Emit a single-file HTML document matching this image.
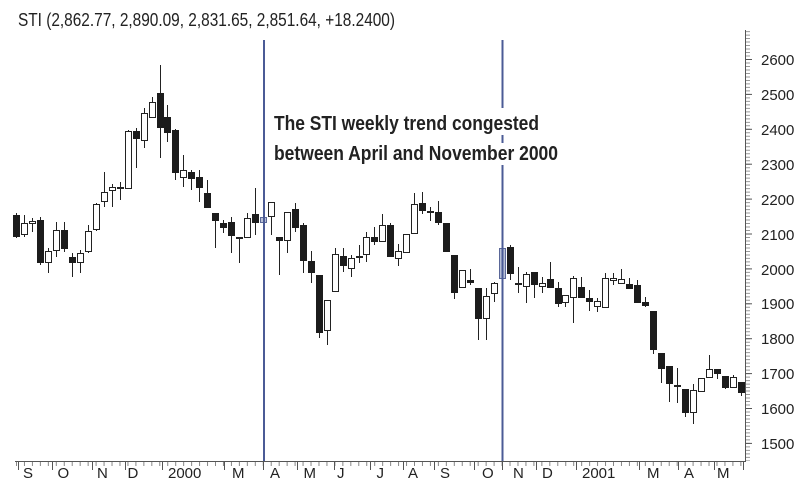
<!DOCTYPE html>
<html>
<head>
<meta charset="utf-8">
<style>
  html,body{margin:0;padding:0;background:#fff;}
  svg{display:block;}
  text{font-family:"Liberation Sans",Arial,sans-serif;fill:#222;}
</style>
</head>
<body>
<svg width="800" height="495" viewBox="0 0 800 495" xmlns="http://www.w3.org/2000/svg">
  <rect width="800" height="495" fill="#fff"/>

  <text x="18" y="26" font-size="18" textLength="377" lengthAdjust="spacingAndGlyphs">STI (2,862.77, 2,890.09, 2,831.65, 2,851.64, +18.2400)</text>

  <line x1="745.5" y1="30" x2="745.5" y2="462" stroke="#555" stroke-width="1"/>
  <line x1="748" y1="31.08" x2="748" y2="461" stroke="#999" stroke-width="4" stroke-dasharray="1 2.49"/>
  <g stroke="#555" stroke-width="1">
    <line x1="745" y1="59.5" x2="752" y2="59.5"/>
    <line x1="745" y1="94.4" x2="752" y2="94.4"/>
    <line x1="745" y1="129.3" x2="752" y2="129.3"/>
    <line x1="745" y1="164.2" x2="752" y2="164.2"/>
    <line x1="745" y1="199.1" x2="752" y2="199.1"/>
    <line x1="745" y1="234" x2="752" y2="234"/>
    <line x1="745" y1="268.9" x2="752" y2="268.9"/>
    <line x1="745" y1="303.8" x2="752" y2="303.8"/>
    <line x1="745" y1="338.7" x2="752" y2="338.7"/>
    <line x1="745" y1="373.6" x2="752" y2="373.6"/>
    <line x1="745" y1="408.5" x2="752" y2="408.5"/>
    <line x1="745" y1="443.4" x2="752" y2="443.4"/>
  </g>
  <g font-size="15">
    <text x="761" y="65">2600</text>
    <text x="761" y="100">2500</text>
    <text x="761" y="135">2400</text>
    <text x="761" y="170">2300</text>
    <text x="761" y="205">2200</text>
    <text x="761" y="240">2100</text>
    <text x="761" y="275">2000</text>
    <text x="761" y="309">1900</text>
    <text x="761" y="344">1800</text>
    <text x="761" y="379">1700</text>
    <text x="761" y="414">1600</text>
    <text x="761" y="449">1500</text>
  </g>

  <line x1="15" y1="461.5" x2="746" y2="461.5" stroke="#555" stroke-width="1"/>
  <line x1="16" y1="464" x2="745" y2="464" stroke="#888" stroke-width="4" stroke-dasharray="1 6.96"/>
  <g stroke="#555" stroke-width="1">
    <line x1="18.5" y1="461" x2="18.5" y2="470"/>
    <line x1="52.5" y1="461" x2="52.5" y2="470"/>
    <line x1="92.5" y1="461" x2="92.5" y2="470"/>
    <line x1="125.5" y1="461" x2="125.5" y2="470"/>
    <line x1="162.5" y1="461" x2="162.5" y2="470"/>
    <line x1="224.5" y1="461" x2="224.5" y2="470"/>
    <line x1="263.5" y1="461" x2="263.5" y2="470"/>
    <line x1="297.5" y1="461" x2="297.5" y2="470"/>
    <line x1="334.5" y1="461" x2="334.5" y2="470"/>
    <line x1="370.5" y1="461" x2="370.5" y2="470"/>
    <line x1="403.5" y1="461" x2="403.5" y2="470"/>
    <line x1="434.5" y1="461" x2="434.5" y2="470"/>
    <line x1="474.5" y1="461" x2="474.5" y2="470"/>
    <line x1="502.5" y1="461" x2="502.5" y2="470"/>
    <line x1="536.5" y1="461" x2="536.5" y2="470"/>
    <line x1="576.5" y1="461" x2="576.5" y2="470"/>
    <line x1="639.5" y1="461" x2="639.5" y2="470"/>
    <line x1="678.5" y1="461" x2="678.5" y2="470"/>
    <line x1="714.5" y1="461" x2="714.5" y2="470"/>
    <line x1="743.5" y1="461" x2="743.5" y2="470"/>
  </g>
  <g font-size="15">
    <text x="23" y="478">S</text>
    <text x="57.5" y="478">O</text>
    <text x="97" y="478">N</text>
    <text x="127.5" y="478">D</text>
    <text x="168" y="478">2000</text>
    <text x="232" y="478">M</text>
    <text x="270" y="478">A</text>
    <text x="303.5" y="478">M</text>
    <text x="337" y="478">J</text>
    <text x="376.5" y="478">J</text>
    <text x="408" y="478">A</text>
    <text x="440" y="478">S</text>
    <text x="482" y="478">O</text>
    <text x="513" y="478">N</text>
    <text x="542" y="478">D</text>
    <text x="582" y="478">2001</text>
    <text x="647" y="478">M</text>
    <text x="684" y="478">A</text>
    <text x="717" y="478">M</text>
  </g>

  <path fill="none" stroke="#222" stroke-width="1" d="M16.5 213V238 M24.5 215V237 M32.5 218V232 M40.5 217V265 M48.5 248V273 M56.5 222V257 M64.5 222V252 M72.5 253V277 M80.5 250V273 M88.5 225V253 M96.5 203V231 M104.5 172V207 M112.5 184V207 M120.5 182V200 M128.5 130V188 M136.5 128V168 M144.5 108V148 M152.5 97V117 M160.5 65V158 M167.5 105V142 M175.5 129V180 M183.5 155V187 M191.5 170V190 M199.5 170V202 M207.5 180V208 M215.5 213V248 M223.5 220V233 M231.5 217V253 M239.5 237V263 M247.5 213V238 M255.5 188V235 M263.5 215V225 M271.5 202V235 M279.5 237V275 M287.5 212V253 M295.5 203V232 M303.5 223V273 M311.5 251V283 M319.5 275V338 M327.5 300V345 M335.5 248V291 M343.5 248V272 M351.5 255V277 M359.5 245V263 M366.5 232V262 M374.5 227V245 M382.5 214V242 M390.5 223V257 M398.5 244V266 M406.5 234V252 M414.5 193V233 M422.5 192V214 M430.5 207V221 M438.5 201V225 M446.5 223V251 M454.5 255V299 M462.5 270V287 M470.5 269V285 M478.5 288V340 M486.5 288V340 M494.5 282V302 M502.5 245V282 M510.5 245V280 M518.5 267V293 M526.5 272V303 M534.5 272V298 M542.5 277V293 M550.5 262V287 M558.5 282V307 M565.5 295V307 M573.5 276V323 M581.5 277V298 M589.5 290V311 M597.5 298V312 M605.5 273V307 M613.5 273V285 M621.5 269V283 M629.5 278V288 M637.5 280V302 M645.5 297V307 M653.5 311V354 M661.5 353V383 M669.5 366V402 M677.5 368V403 M685.5 389V417 M693.5 384V424 M701.5 378V391 M709.5 355V377 M717.5 369V379 M725.5 376V389 M733.5 375V388 M741.5 382V396"/>

  <g fill="#1c1c1c" stroke="#1c1c1c" stroke-width="1">
    <rect x="13.5" y="215.5" width="6" height="21"/>
    <rect x="37.5" y="220.5" width="6" height="42"/>
    <rect x="61.5" y="230.5" width="6" height="18"/>
    <rect x="69.5" y="257.5" width="6" height="5"/>
    <rect x="133.5" y="131.5" width="6" height="7"/>
    <rect x="157.5" y="93.5" width="6" height="34"/>
    <rect x="164.5" y="117.5" width="6" height="15"/>
    <rect x="172.5" y="130.5" width="6" height="42"/>
    <rect x="188.5" y="172.5" width="6" height="6"/>
    <rect x="196.5" y="177.5" width="6" height="10"/>
    <rect x="204.5" y="193.5" width="6" height="14"/>
    <rect x="212.5" y="213.5" width="6" height="7"/>
    <rect x="220.5" y="223.5" width="6" height="4"/>
    <rect x="228.5" y="222.5" width="6" height="13"/>
    <rect x="252.5" y="214.5" width="6" height="8"/>
    <rect x="276.5" y="237.5" width="6" height="3"/>
    <rect x="292.5" y="209.5" width="6" height="18"/>
    <rect x="300.5" y="225.5" width="6" height="35"/>
    <rect x="308.5" y="261.5" width="6" height="11"/>
    <rect x="316.5" y="275.5" width="6" height="57"/>
    <rect x="340.5" y="256.5" width="6" height="9"/>
    <rect x="371.5" y="237.5" width="6" height="4"/>
    <rect x="387.5" y="225.5" width="6" height="31"/>
    <rect x="419.5" y="203.5" width="6" height="7"/>
    <rect x="435.5" y="212.5" width="6" height="10"/>
    <rect x="443.5" y="223.5" width="6" height="28"/>
    <rect x="451.5" y="255.5" width="6" height="37"/>
    <rect x="467.5" y="280.5" width="6" height="2"/>
    <rect x="475.5" y="288.5" width="6" height="30"/>
    <rect x="507.5" y="247.5" width="6" height="26"/>
    <rect x="531.5" y="272.5" width="6" height="12"/>
    <rect x="547.5" y="279.5" width="6" height="8"/>
    <rect x="555.5" y="288.5" width="6" height="15"/>
    <rect x="578.5" y="287.5" width="6" height="10"/>
    <rect x="586.5" y="298.5" width="6" height="3"/>
    <rect x="626.5" y="284.5" width="6" height="4"/>
    <rect x="634.5" y="285.5" width="6" height="17"/>
    <rect x="642.5" y="302.5" width="6" height="3"/>
    <rect x="650.5" y="311.5" width="6" height="38"/>
    <rect x="658.5" y="353.5" width="6" height="15"/>
    <rect x="666.5" y="366.5" width="6" height="17"/>
    <rect x="682.5" y="389.5" width="6" height="23"/>
    <rect x="714.5" y="369.5" width="6" height="4"/>
    <rect x="722.5" y="376.5" width="6" height="11"/>
    <rect x="738.5" y="382.5" width="6" height="10"/>
  </g>

  <g fill="#fff" stroke="#222" stroke-width="1">
    <rect x="21.5" y="223.5" width="6" height="11"/>
    <rect x="29.5" y="221.5" width="6" height="2"/>
    <rect x="45.5" y="251.5" width="6" height="11"/>
    <rect x="53.5" y="230.5" width="6" height="20"/>
    <rect x="77.5" y="253.5" width="6" height="9"/>
    <rect x="85.5" y="231.5" width="6" height="20"/>
    <rect x="93.5" y="204.5" width="6" height="25"/>
    <rect x="101.5" y="192.5" width="6" height="9"/>
    <rect x="109.5" y="187.5" width="6" height="3"/>
    <rect x="117.5" y="187.5" width="6" height="1"/>
    <rect x="125.5" y="131.5" width="6" height="57"/>
    <rect x="141.5" y="113.5" width="6" height="27"/>
    <rect x="149.5" y="102.5" width="6" height="15"/>
    <rect x="180.5" y="170.5" width="6" height="7"/>
    <rect x="236.5" y="237.5" width="6" height="1"/>
    <rect x="244.5" y="218.5" width="6" height="19"/>
    <rect x="268.5" y="202.5" width="6" height="14"/>
    <rect x="284.5" y="212.5" width="6" height="28"/>
    <rect x="324.5" y="300.5" width="6" height="30"/>
    <rect x="332.5" y="254.5" width="6" height="37"/>
    <rect x="348.5" y="258.5" width="6" height="10"/>
    <rect x="356.5" y="256.5" width="6" height="1"/>
    <rect x="363.5" y="237.5" width="6" height="17"/>
    <rect x="379.5" y="225.5" width="6" height="16"/>
    <rect x="395.5" y="251.5" width="6" height="7"/>
    <rect x="403.5" y="234.5" width="6" height="18"/>
    <rect x="411.5" y="204.5" width="6" height="29"/>
    <rect x="427.5" y="211.5" width="6" height="1"/>
    <rect x="459.5" y="270.5" width="6" height="17"/>
    <rect x="483.5" y="296.5" width="6" height="22"/>
    <rect x="491.5" y="283.5" width="6" height="10"/>
    <rect x="515.5" y="283.5" width="6" height="1"/>
    <rect x="523.5" y="274.5" width="6" height="12"/>
    <rect x="539.5" y="283.5" width="6" height="3"/>
    <rect x="562.5" y="295.5" width="6" height="7"/>
    <rect x="570.5" y="278.5" width="6" height="19"/>
    <rect x="594.5" y="301.5" width="6" height="5"/>
    <rect x="602.5" y="278.5" width="6" height="29"/>
    <rect x="610.5" y="278.5" width="6" height="2"/>
    <rect x="618.5" y="279.5" width="6" height="4"/>
    <rect x="674.5" y="385.5" width="6" height="1"/>
    <rect x="690.5" y="390.5" width="6" height="22"/>
    <rect x="698.5" y="378.5" width="6" height="13"/>
    <rect x="706.5" y="369.5" width="6" height="8"/>
    <rect x="730.5" y="377.5" width="6" height="10"/>
  </g>

  <g fill="#b8c0d6" stroke="#5a6798" stroke-width="1">
    <rect x="260.5" y="217.5" width="6" height="5"/>
    <rect x="499.5" y="248.5" width="6" height="30"/>
  </g>

  <line x1="264" y1="40" x2="264" y2="461" stroke="#4b5b96" stroke-width="2"/>
  <line x1="502.5" y1="40" x2="502.5" y2="461" stroke="#4b5b96" stroke-width="2"/>

  <rect x="270" y="108" width="292" height="27" fill="#fff"/>
  <rect x="270" y="143" width="292" height="22" fill="#fff"/>
  <text x="274" y="130" font-size="20" font-weight="bold" textLength="265" lengthAdjust="spacingAndGlyphs">The STI weekly trend congested</text>
  <text x="274" y="160" font-size="20" font-weight="bold" textLength="284" lengthAdjust="spacingAndGlyphs">between April and November 2000</text>
</svg>
</body>
</html>
